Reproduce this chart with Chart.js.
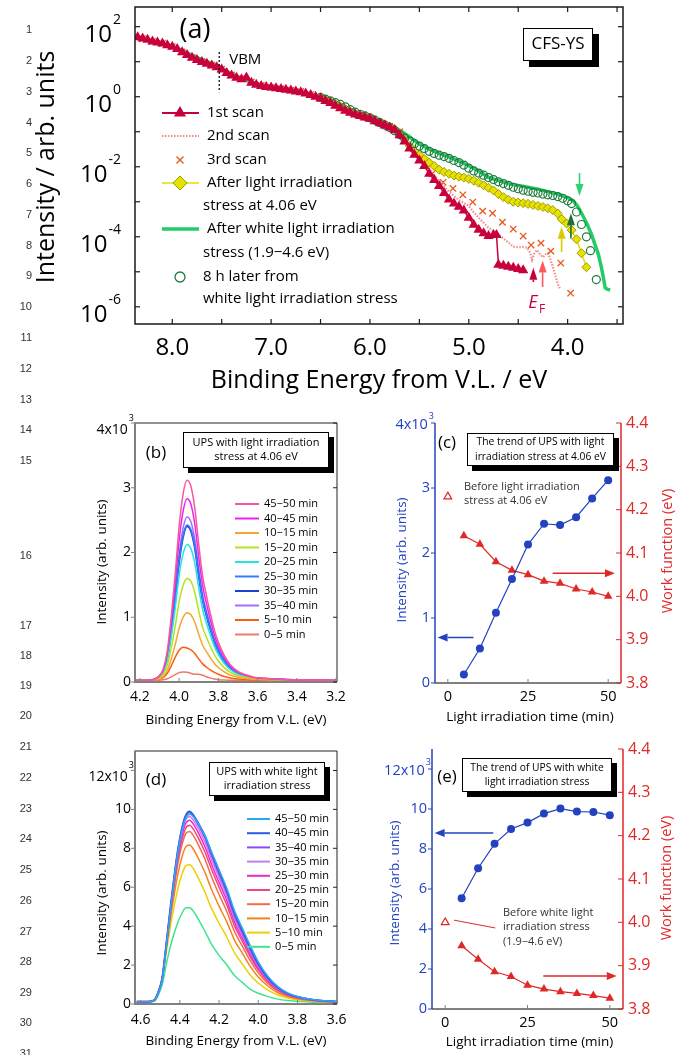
<!DOCTYPE html>
<html>
<head>
<meta charset="utf-8">
<title>CFS-YS photoemission under light irradiation stress</title>
<script src="https://cdn.jsdelivr.net/npm/chart.js@4/dist/chart.umd.min.js"></script>
<style>
  html, body { margin: 0; padding: 0; background: #fff; }
  #page { position: relative; width: 686px; height: 1055px; overflow: hidden; }
  #page canvas { position: absolute; left: 0; top: 0; }
  .ln { position: absolute; left: 0; width: 32px; text-align: right; font: 11px "Liberation Sans", Arial, sans-serif; color: #333; line-height: 14px; }
</style>
</head>
<body>
<div id="page">
  <canvas id="cA" width="686" height="1055"></canvas>
  <canvas id="cB" width="686" height="1055"></canvas>
  <canvas id="cC" width="686" height="1055"></canvas>
  <canvas id="cD" width="686" height="1055"></canvas>
  <canvas id="cE" width="686" height="1055"></canvas>
</div>
<script>
const FONT = '"Open Sans", "Noto Sans", sans-serif';

// manuscript line numbers in the left margin
const lineNumberY = [29, 60, 91, 122, 152, 183, 214, 245, 275, 306, 337, 368, 399, 429, 460,
  555, 625, 655, 685, 715, 746, 777, 808, 838, 869, 900, 931, 961, 992, 1022, 1053];

// ---------- (a) CFS-YS yield spectra, binding energy (eV) vs intensity ----------
const eScan1 = [8.35, 8.30, 8.25, 8.20, 8.15, 8.10, 8.05, 8.00, 7.95, 7.90, 7.85, 7.80, 7.75, 7.70, 7.65,
  7.60, 7.55, 7.50, 7.45, 7.40, 7.35, 7.30, 7.25, 7.20, 7.15, 7.10, 7.05, 7.00, 6.95, 6.90, 6.85, 6.80,
  6.75, 6.70, 6.65, 6.60, 6.55, 6.50, 6.45, 6.40, 6.35, 6.30, 6.25, 6.20, 6.15, 6.10, 6.05, 6.00, 5.95,
  5.90, 5.85, 5.80, 5.75, 5.70, 5.65, 5.60, 5.55, 5.50, 5.45, 5.40, 5.35, 5.30, 5.25, 5.20, 5.15, 5.10,
  5.05, 5.00, 4.95, 4.90, 4.85, 4.80, 4.75, 4.72, 4.70, 4.65, 4.60, 4.55, 4.50, 4.45];
const scan1 = [50.1, 45.7, 42.7, 38.0, 35.5, 33.1, 29.5, 26.9, 22.9, 18.6, 15.5, 12.9, 11.2, 9.77, 8.71,
  7.76, 6.92, 6.03, 4.79, 4.07, 3.47, 3.16, 3.55, 2.51, 2.19, 2.04, 1.91, 1.82, 1.74, 1.66, 1.58, 1.51,
  1.41, 1.35, 1.23, 1.12, 1.00, 0.891, 0.759, 0.661, 0.550, 0.468, 0.398, 0.347, 0.309, 0.282, 0.257, 0.234, 0.200,
  0.174, 0.151, 0.132, 0.110, 0.0794, 0.0525, 0.0331, 0.0219, 0.0151, 0.0105, 6.31e-3, 4.17e-3, 2.82e-3, 1.78e-3, 1.17e-3, 8.9e-4, 7.2e-4,
  5.6e-4, 3.5e-4, 2.2e-4, 1.6e-4, 1.26e-4, 1.05e-4, 1.12e-4, 1.12e-4, 1.6e-5, 1.5e-5, 1.4e-5, 1.3e-5, 1.2e-5, 1.1e-5];

const eScan2 = [6.50, 6.20, 6.00, 5.80, 5.70, 5.60, 5.50, 5.40, 5.30, 5.20, 5.10, 5.00, 4.95, 4.90, 4.85,
  4.80, 4.75, 4.70, 4.65, 4.60, 4.55, 4.50, 4.45, 4.41, 4.38, 4.36, 4.34, 4.31, 4.28, 4.25, 4.22, 4.20,
  4.18, 4.15, 4.12, 4.10, 4.08];
const scan2 = [0.933, 0.363, 0.251, 0.141, 0.0955, 0.0417, 0.0191, 8.7e-3, 3.98e-3, 1.91e-3, 1.12e-3, 7.6e-4, 5.0e-4, 3.5e-4, 2.5e-4,
  1.8e-4, 1.45e-4, 1.17e-4, 8.9e-5, 6.9e-5, 5.2e-5, 5.0e-5, 5.1e-5, 4.9e-5, 3.5e-5, 2.2e-5, 3.2e-5, 4.2e-5, 3.2e-5, 2.6e-5, 3.2e-5, 3.4e-5,
  2.5e-5, 1.4e-5, 7.1e-6, 4.5e-6, 3.4e-6];

const eScan3 = [8.3, 8.2, 8.1, 8.0, 7.9, 7.8, 7.7, 7.6, 7.5, 7.4, 7.3, 7.2, 7.1, 7.0, 6.9, 6.8, 6.7, 6.6,
  6.5, 6.4, 6.3, 6.2, 6.1, 6.0, 5.9, 5.8, 5.7, 5.6, 5.5, 5.37, 5.26, 5.16, 5.06, 4.96, 4.86, 4.76, 4.66,
  4.55, 4.45, 4.37, 4.27, 4.17, 4.07, 3.97];
const scan3 = [45.7, 38.0, 33.1, 26.9, 19.1, 13.2, 10.0, 7.94, 6.17, 4.17, 3.31, 2.63, 2.09, 1.86, 1.70, 1.55, 1.41, 1.15,
  0.912, 0.692, 0.501, 0.372, 0.295, 0.245, 0.186, 0.141, 0.1, 0.0355, 0.0158, 6.3e-3, 3.6e-3, 2.4e-3, 1.58e-3, 9.8e-4, 5.4e-4, 4.7e-4, 2.6e-4,
  1.66e-4, 1.05e-4, 5.8e-5, 6.6e-5, 3.9e-5, 1.78e-5, 2.45e-6];

const eLight = [6.50, 6.45, 6.40, 6.35, 6.30, 6.25, 6.20, 6.15, 6.10, 6.05, 6.00, 5.95, 5.90, 5.85, 5.80,
  5.75, 5.70, 5.65, 5.60, 5.55, 5.50, 5.45, 5.40, 5.35, 5.30, 5.25, 5.20, 5.15, 5.10, 5.05, 5.00, 4.95,
  4.90, 4.85, 4.80, 4.75, 4.70, 4.65, 4.60, 4.55, 4.50, 4.45, 4.40, 4.35, 4.30, 4.25, 4.20, 4.15, 4.10,
  4.06, 4.01, 3.96, 3.91, 3.86, 3.81];
const light406 = [0.955, 0.832, 0.724, 0.617, 0.525, 0.447, 0.380, 0.331, 0.295, 0.269, 0.245, 0.214, 0.186, 0.162, 0.141,
  0.120, 0.0891, 0.0603, 0.0398, 0.0282, 0.0214, 0.0166, 0.0132, 0.0105, 8.3e-3, 7.1e-3, 6.3e-3, 5.6e-3, 5.2e-3, 4.9e-3, 4.5e-3, 4.0e-3,
  3.5e-3, 2.95e-3, 2.5e-3, 2.1e-3, 1.66e-3, 1.35e-3, 1.15e-3, 1.0e-3, 9.5e-4, 9.1e-4, 8.7e-4, 8.1e-4, 7.6e-4, 7.1e-4, 6.5e-4, 5.8e-4, 4.6e-4,
  3.2e-4, 2.4e-4, 1.55e-4, 8.5e-5, 3.4e-5, 1.35e-5];

const eWhite = [8.35, 8.2, 8.0, 7.9, 7.8, 7.7, 7.6, 7.5, 7.4, 7.3, 7.2, 7.1, 7.0, 6.9, 6.8, 6.7, 6.6, 6.5,
  6.4, 6.3, 6.2, 6.1, 6.0, 5.9, 5.8, 5.7, 5.6, 5.5, 5.4, 5.3, 5.2, 5.1, 5.0, 4.9, 4.8, 4.7, 4.6, 4.5, 4.4,
  4.3, 4.2, 4.1, 4.0, 3.95, 3.9, 3.85, 3.8, 3.76, 3.72, 3.69, 3.66, 3.64, 3.62, 3.6, 3.57];
const whiteLight = [50.1, 38.0, 27.5, 20.9, 15.1, 11.5, 8.91, 6.61, 4.47, 3.31, 2.63, 2.14, 1.86, 1.70, 1.55, 1.41, 1.17, 0.955,
  0.759, 0.575, 0.417, 0.316, 0.263, 0.200, 0.151, 0.110, 0.0724, 0.0447, 0.0316, 0.0240, 0.0191, 0.0145, 0.0107, 7.6e-3, 5.0e-3, 4.0e-3, 3.3e-3, 2.9e-3, 2.6e-3,
  2.3e-3, 1.95e-3, 1.66e-3, 1.32e-3, 1.10e-3, 7.6e-4, 4.2e-4, 2.2e-4, 1.2e-4, 5.6e-5, 3.2e-5, 1.4e-5, 7.1e-6, 3.5e-6, 3.2e-6, 3.0e-6];

const eLater = [6.50, 6.45, 6.40, 6.35, 6.30, 6.25, 6.20, 6.15, 6.10, 6.05, 6.00, 5.95, 5.90, 5.85, 5.80,
  5.75, 5.70, 5.65, 5.60, 5.55, 5.50, 5.45, 5.40, 5.35, 5.30, 5.25, 5.20, 5.15, 5.10, 5.05, 5.00, 4.95,
  4.90, 4.85, 4.80, 4.75, 4.70, 4.65, 4.60, 4.55, 4.50, 4.45, 4.40, 4.35, 4.30, 4.25, 4.20, 4.15, 4.10,
  4.05, 4.00, 3.96, 3.91, 3.86, 3.81, 3.77, 3.71];
const later8h = [0.955, 0.851, 0.759, 0.676, 0.603, 0.513, 0.427, 0.363, 0.316, 0.282, 0.251, 0.214, 0.182, 0.155, 0.132,
  0.107, 0.0832, 0.0661, 0.0537, 0.0457, 0.0389, 0.0331, 0.0275, 0.0240, 0.0214, 0.0195, 0.0174, 0.0151, 0.0132, 0.0112, 9.1e-3, 7.6e-3,
  6.6e-3, 5.75e-3, 4.9e-3, 4.3e-3, 3.7e-3, 3.3e-3, 2.95e-3, 2.6e-3, 2.35e-3, 2.14e-3, 2.0e-3, 1.86e-3, 1.78e-3, 1.66e-3, 1.58e-3, 1.51e-3, 1.41e-3,
  1.26e-3, 1.07e-3, 8.9e-4, 5.1e-4, 2.24e-4, 1.0e-4, 4.0e-5, 6.0e-6];

// ---------- (b) UPS during 4.06 eV irradiation (x10^3 counts) ----------
const eB = [4.22, 4.16, 4.10, 4.08, 4.06, 4.04, 4.02, 4.00, 3.98, 3.96, 3.94, 3.92, 3.90, 3.88, 3.86,
  3.84, 3.82, 3.80, 3.77, 3.74, 3.70, 3.66, 3.62, 3.56, 3.45, 3.32, 3.20];
const b45_50 = [0.025, 0.025, 0.102, 0.210, 0.489, 1.014, 1.663, 2.404, 2.899, 3.115, 3.022, 2.682, 2.126, 1.632, 1.323, 1.045, 0.798, 0.612, 0.411, 0.272, 0.164, 0.112, 0.074, 0.056, 0.037, 0.031, 0.025];
const b40_45 = [0.025, 0.025, 0.095, 0.193, 0.446, 0.923, 1.512, 2.185, 2.634, 2.830, 2.746, 2.437, 1.932, 1.484, 1.203, 0.951, 0.726, 0.558, 0.376, 0.249, 0.151, 0.104, 0.070, 0.053, 0.036, 0.031, 0.025];
const b10_15 = [0.025, 0.025, 0.051, 0.088, 0.182, 0.359, 0.579, 0.830, 0.997, 1.070, 1.039, 0.924, 0.736, 0.568, 0.464, 0.370, 0.286, 0.224, 0.156, 0.109, 0.072, 0.054, 0.042, 0.035, 0.029, 0.027, 0.025];
const b15_20 = [0.025, 0.025, 0.064, 0.120, 0.261, 0.529, 0.860, 1.238, 1.490, 1.600, 1.553, 1.380, 1.096, 0.844, 0.687, 0.545, 0.419, 0.324, 0.222, 0.151, 0.096, 0.069, 0.050, 0.041, 0.031, 0.028, 0.025];
const b20_25 = [0.025, 0.025, 0.078, 0.151, 0.340, 0.697, 1.138, 1.642, 1.978, 2.125, 2.062, 1.831, 1.453, 1.117, 0.907, 0.718, 0.550, 0.424, 0.288, 0.193, 0.120, 0.084, 0.059, 0.046, 0.033, 0.029, 0.025];
const b25_30 = [0.025, 0.025, 0.085, 0.169, 0.385, 0.793, 1.297, 1.873, 2.257, 2.425, 2.353, 2.089, 1.657, 1.273, 1.033, 0.817, 0.625, 0.481, 0.325, 0.217, 0.133, 0.092, 0.063, 0.049, 0.035, 0.030, 0.025];
const b30_35 = [0.025, 0.025, 0.082, 0.165, 0.380, 0.785, 1.290, 1.860, 2.240, 2.405, 2.335, 2.075, 1.645, 1.265, 1.025, 0.810, 0.620, 0.477, 0.323, 0.215, 0.132, 0.092, 0.063, 0.049, 0.035, 0.030, 0.025];
const b35_40 = [0.025, 0.025, 0.088, 0.177, 0.404, 0.833, 1.363, 1.969, 2.373, 2.550, 2.474, 2.197, 1.742, 1.338, 1.086, 0.858, 0.656, 0.505, 0.341, 0.227, 0.139, 0.096, 0.065, 0.050, 0.035, 0.030, 0.025];
const b05_10 = [0.025, 0.025, 0.045, 0.070, 0.135, 0.250, 0.380, 0.490, 0.535, 0.525, 0.495, 0.440, 0.355, 0.280, 0.228, 0.185, 0.150, 0.120, 0.085, 0.062, 0.046, 0.038, 0.032, 0.030, 0.027, 0.026, 0.025];
const b00_05 = [0.025, 0.025, 0.028, 0.035, 0.050, 0.080, 0.115, 0.145, 0.155, 0.150, 0.135, 0.118, 0.120, 0.105, 0.080, 0.060, 0.045, 0.036, 0.030, 0.028, 0.026, 0.026, 0.025, 0.025, 0.025, 0.025, 0.025];

// ---------- (c) trend during 4.06 eV irradiation ----------
const tMin = [5, 10, 15, 20, 25, 30, 35, 40, 45, 50];
const intensityC = [0.13, 0.53, 1.08, 1.60, 2.13, 2.45, 2.43, 2.55, 2.84, 3.12];
const workFnC = [4.14, 4.12, 4.08, 4.06, 4.05, 4.035, 4.03, 4.017, 4.01, 4.00];
const workFnBeforeC = 4.23;

// ---------- (d) UPS during white light irradiation (x10^3 counts) ----------
const eD = [4.62, 4.56, 4.53, 4.51, 4.49, 4.47, 4.45, 4.43, 4.41, 4.39, 4.37, 4.35, 4.33, 4.30,
  4.27, 4.24, 4.20, 4.16, 4.12, 4.08, 4.04, 4.00, 3.95, 3.90, 3.85, 3.80, 3.72, 3.60];
const d45_50 = [0.12, 0.12, 0.20, 0.57, 1.25, 2.90, 4.65, 6.33, 7.80, 8.87, 9.55, 9.75, 9.62, 9.18, 8.62, 7.86, 6.90, 5.93, 4.76, 3.87, 2.98, 2.17, 1.41, 0.89, 0.57, 0.39, 0.23, 0.12];
const d40_45 = [0.12, 0.12, 0.20, 0.59, 1.29, 2.97, 4.75, 6.44, 7.92, 9.01, 9.70, 9.90, 9.70, 9.21, 8.61, 7.82, 6.83, 5.84, 4.65, 3.76, 2.87, 2.08, 1.34, 0.84, 0.54, 0.37, 0.22, 0.12];
const d35_40 = [0.12, 0.12, 0.20, 0.61, 1.31, 3.00, 4.78, 6.44, 7.90, 8.97, 9.66, 9.85, 9.64, 9.12, 8.51, 7.70, 6.70, 5.72, 4.54, 3.66, 2.79, 2.02, 1.30, 0.82, 0.53, 0.36, 0.21, 0.12];
const d30_35 = [0.12, 0.12, 0.20, 0.61, 1.32, 2.99, 4.73, 6.34, 7.76, 8.80, 9.47, 9.64, 9.43, 8.90, 8.27, 7.46, 6.48, 5.51, 4.36, 3.51, 2.66, 1.93, 1.24, 0.79, 0.51, 0.35, 0.21, 0.11];
const d25_30 = [0.12, 0.12, 0.20, 0.61, 1.33, 2.98, 4.68, 6.24, 7.62, 8.63, 9.28, 9.44, 9.23, 8.68, 8.04, 7.22, 6.25, 5.31, 4.19, 3.36, 2.54, 1.84, 1.19, 0.75, 0.49, 0.34, 0.20, 0.11];
const d20_25 = [0.13, 0.13, 0.20, 0.61, 1.32, 2.94, 4.60, 6.11, 7.43, 8.41, 9.03, 9.18, 8.96, 8.41, 7.76, 6.96, 6.00, 5.08, 3.99, 3.20, 2.41, 1.75, 1.13, 0.72, 0.47, 0.32, 0.20, 0.11];
const d15_20 = [0.13, 0.13, 0.20, 0.61, 1.34, 2.94, 4.54, 5.97, 7.23, 8.15, 8.75, 8.87, 8.64, 8.06, 7.40, 6.58, 5.63, 4.74, 3.70, 2.95, 2.21, 1.60, 1.04, 0.66, 0.44, 0.30, 0.19, 0.10];
const d10_15 = [0.12, 0.12, 0.20, 0.59, 1.30, 2.79, 4.26, 5.56, 6.69, 7.53, 8.07, 8.17, 7.94, 7.36, 6.71, 5.92, 5.03, 4.21, 3.26, 2.59, 1.92, 1.39, 0.91, 0.58, 0.39, 0.27, 0.17, 0.09];
const d05_10 = [0.12, 0.12, 0.19, 0.56, 1.24, 2.59, 3.89, 4.98, 5.93, 6.64, 7.10, 7.16, 6.93, 6.35, 5.70, 4.95, 4.15, 3.43, 2.61, 2.04, 1.48, 1.08, 0.71, 0.46, 0.31, 0.22, 0.14, 0.08];
const d00_05 = [0.10, 0.10, 0.15, 0.45, 1.00, 2.00, 2.90, 3.60, 4.20, 4.65, 4.95, 4.95, 4.75, 4.25, 3.70, 3.10, 2.50, 2.00, 1.45, 1.10, 0.75, 0.55, 0.38, 0.25, 0.18, 0.14, 0.09, 0.05];

// ---------- (e) trend during white light irradiation ----------
const intensityE = [5.54, 7.04, 8.26, 9.00, 9.32, 9.77, 10.02, 9.87, 9.85, 9.69];
const workFnE = [3.946, 3.915, 3.886, 3.875, 3.855, 3.846, 3.840, 3.836, 3.831, 3.825];
const workFnBeforeE = 4.00;

// axis ticks
const ticksA_x = [8.0, 7.0, 6.0, 5.0, 4.0];
const ticksA_exp = [2, 0, -2, -4, -6];
const ticksB_x = [4.2, 4.0, 3.8, 3.6, 3.4, 3.2];
const ticksB_y = [0, 1, 2, 3, 4];
const ticksD_x = [4.6, 4.4, 4.2, 4.0, 3.8, 3.6];
const ticksD_y = [0, 2, 4, 6, 8, 10, 12];
const ticksT_x = [0, 25, 50];
const ticksC_y = [0, 1, 2, 3, 4];
const ticksE_y = [0, 2, 4, 6, 8, 10, 12];
const ticksWF = [3.8, 3.9, 4.0, 4.1, 4.2, 4.3, 4.4];

const pts = (xs, ys) => xs.map((x, i) => ({ x, y: ys[i] }));

// ---------- drawing helpers ----------
function txt(ctx, s, x, y, size, o = {}) {
  ctx.save();
  ctx.font = `${o.style || ''} ${size}px ${FONT}`;
  ctx.fillStyle = o.color || '#000';
  ctx.textAlign = o.align || 'center';
  ctx.textBaseline = 'middle';
  if (o.rotate) {
    ctx.translate(x, y);
    ctx.rotate(o.rotate);
    ctx.fillText(s, 0, 0);
  } else {
    ctx.fillText(s, x, y);
  }
  ctx.restore();
}

function line(ctx, x1, y1, x2, y2, color, lw, dash) {
  ctx.save();
  ctx.strokeStyle = color;
  ctx.lineWidth = lw;
  if (dash) ctx.setLineDash(dash);
  ctx.beginPath();
  ctx.moveTo(x1, y1);
  ctx.lineTo(x2, y2);
  ctx.stroke();
  ctx.restore();
}

// base text with a raised exponent, right edge at x
function powLabel(ctx, base, exp, x, y, size, supSize, rise, color) {
  ctx.save();
  ctx.fillStyle = color;
  ctx.textBaseline = 'middle';
  ctx.font = `${supSize}px ${FONT}`;
  const w = ctx.measureText(exp).width;
  ctx.textAlign = 'left';
  ctx.fillText(exp, x - w, y - rise);
  ctx.font = `${size}px ${FONT}`;
  ctx.textAlign = 'right';
  ctx.fillText(base, x - w - 1, y);
  ctx.restore();
}

function arrow(ctx, x1, y1, x2, y2, color, lw = 1.5, head = 11, half = 4) {
  const a = Math.atan2(y2 - y1, x2 - x1);
  const bx = x2 - head * Math.cos(a), by = y2 - head * Math.sin(a);
  ctx.save();
  ctx.strokeStyle = color;
  ctx.fillStyle = color;
  ctx.lineWidth = lw;
  ctx.beginPath();
  ctx.moveTo(x1, y1);
  ctx.lineTo(bx, by);
  ctx.stroke();
  ctx.beginPath();
  ctx.moveTo(x2, y2);
  ctx.lineTo(bx + half * Math.sin(a), by - half * Math.cos(a));
  ctx.lineTo(bx - half * Math.sin(a), by + half * Math.cos(a));
  ctx.closePath();
  ctx.fill();
  ctx.restore();
}

function shadowBox(ctx, x, y, w, h, off, lines, size, gap) {
  ctx.save();
  ctx.fillStyle = '#000';
  ctx.fillRect(x + off, y + off, w, h);
  ctx.fillStyle = '#fff';
  ctx.fillRect(x, y, w, h);
  ctx.strokeStyle = '#000';
  ctx.lineWidth = 1;
  ctx.strokeRect(x + 0.5, y + 0.5, w - 1, h - 1);
  ctx.restore();
  const cy = y + h / 2 - (lines.length - 1) * gap / 2;
  lines.forEach((s, i) => txt(ctx, s, x + w / 2, cy + i * gap, size));
}

function marker(ctx, kind, x, y, r, fill, stroke, lw = 1) {
  ctx.save();
  ctx.beginPath();
  if (kind === 'triangle') {
    for (let k = 0; k < 3; k++) {
      const ang = k * 2 * Math.PI / 3;
      const X = x + Math.sin(ang) * r, Y = y - Math.cos(ang) * r;
      if (k) ctx.lineTo(X, Y); else ctx.moveTo(X, Y);
    }
    ctx.closePath();
  } else if (kind === 'diamond') {
    ctx.moveTo(x - r, y); ctx.lineTo(x, y - r); ctx.lineTo(x + r, y); ctx.lineTo(x, y + r);
    ctx.closePath();
  } else if (kind === 'circle') {
    ctx.arc(x, y, r, 0, Math.PI * 2);
  } else if (kind === 'cross') {
    const d = r * Math.SQRT1_2;
    ctx.moveTo(x - d, y - d); ctx.lineTo(x + d, y + d);
    ctx.moveTo(x + d, y - d); ctx.lineTo(x - d, y + d);
  }
  if (fill) { ctx.fillStyle = fill; ctx.fill(); }
  if (stroke) { ctx.strokeStyle = stroke; ctx.lineWidth = lw; ctx.stroke(); }
  ctx.restore();
}

const pad = (l, t, r, b) => ({ left: l, top: t, right: 686 - r, bottom: 1055 - b });

const baseOptions = (padding, scales) => ({
  responsive: false,
  animation: false,
  devicePixelRatio: 1,
  events: [],
  layout: { padding },
  plugins: { legend: { display: false }, tooltip: { enabled: false } },
  scales
});

// ---------- (a) ----------
const colA = {
  scan1: '#c8003c', scan2: '#f58a8a', scan3: '#e8581e',
  lightLine: '#e4dc00', lightFill: '#e6e200', lightEdge: '#a29c00',
  white: '#22cc66', later: '#1e7a3c'
};

const decorA = {
  id: 'decorA',
  afterDraw(chart) {
    const { ctx, chartArea: a } = chart;
    const sx = chart.scales.x, sy = chart.scales.y;
    const px = v => sx.getPixelForValue(v), py = v => sy.getPixelForValue(v);

    // valence band maximum
    line(ctx, px(7.525), py(19), px(7.525), py(1.35), '#000', 1.2, [2, 2]);
    txt(ctx, 'VBM', px(7.525) + 10, 60, 15, { align: 'left' });

    // Fermi-level / onset arrows
    arrow(ctx, px(4.347), py(5.1e-6), px(4.347), py(1.3e-5), '#c8003c', 1.6, 12, 4);
    arrow(ctx, px(4.253), py(3.7e-6), px(4.253), py(2.1e-5), '#ff5858', 1.6, 12, 4);
    arrow(ctx, px(4.061), py(3.7e-5), px(4.061), py(1.95e-4), '#d6cc00', 1.6, 12, 4);
    arrow(ctx, px(3.967), py(8.9e-5), px(3.967), py(4.7e-4), '#1f6e3a', 1.6, 12, 4);
    arrow(ctx, px(3.88), py(6.6e-3), px(3.88), py(1.45e-3), '#2bd46e', 1.6, 12, 4);
    txt(ctx, 'E', 533, 303, 18, { style: 'italic', color: '#c8003c' });
    txt(ctx, 'F', 542, 310, 12, { color: '#c8003c' });

    // frame and inward ticks
    ctx.save();
    ctx.strokeStyle = '#1a1a1a';
    ctx.lineWidth = 1.5;
    ctx.strokeRect(a.left, a.top, a.right - a.left, a.bottom - a.top);
    ctx.restore();
    for (let v = 8.0; v >= 3.5; v -= 0.5) {
      const p = px(v);
      line(ctx, p, a.bottom, p, a.bottom - 5, '#1a1a1a', 1.2);
      line(ctx, p, a.top, p, a.top + 5, '#1a1a1a', 1.2);
    }
    for (let e = -6; e <= 2; e++) {
      const p = py(Math.pow(10, e));
      line(ctx, a.left, p, a.left + 5, p, '#1a1a1a', 1.2);
      line(ctx, a.right, p, a.right - 5, p, '#1a1a1a', 1.2);
    }
    ticksA_x.forEach(v => txt(ctx, v.toFixed(1), px(v), 348, 24));
    ticksA_exp.forEach(e => powLabel(ctx, '10', String(e), 121, py(Math.pow(10, e)) + 8, 24, 14, 15, '#000'));

    txt(ctx, 'Binding Energy from V.L. / eV', (a.left + a.right) / 2, 381, 25);
    txt(ctx, 'Intensity / arb. units', 47, 167, 25, { rotate: -Math.PI / 2 });
    txt(ctx, '(a)', 195, 30, 27);
    shadowBox(ctx, 523, 28, 70, 33, 6, ['CFS-YS'], 17, 0);

    // legend
    const lx0 = 162, lx1 = 199, mx = 180;
    line(ctx, lx0, 113, lx1, 113, colA.scan1, 2);
    marker(ctx, 'triangle', mx, 113, 7, colA.scan1);
    line(ctx, lx0, 136, lx1, 136, colA.scan2, 2.2, [1.5, 1.5]);
    marker(ctx, 'cross', mx, 160, 5, null, colA.scan3, 1.3);
    line(ctx, lx0, 183, lx1, 183, colA.lightLine, 1.5);
    marker(ctx, 'diamond', mx, 183, 7, colA.lightFill, colA.lightEdge, 1);
    line(ctx, lx0, 229, lx1, 229, colA.white, 3.5);
    marker(ctx, 'circle', mx, 277, 5, null, colA.later, 1.3);
    const rows = [
      ['1st scan', 207, 113], ['2nd scan', 207, 136], ['3rd scan', 207, 160],
      ['After light irradiation', 207, 183], ['stress at 4.06 eV', 203, 206],
      ['After white light irradiation', 207, 229], ['stress (1.9\u22124.6 eV)', 203, 253],
      ['8 h later from', 203, 277], ['white light irradiation stress', 203, 299]
    ];
    rows.forEach(([s, x, y]) => txt(ctx, s, x, y, 15, { align: 'left' }));
  }
};

new Chart(document.getElementById('cA'), {
  type: 'line',
  data: {
    datasets: [
      { label: '1st scan', data: pts(eScan1, scan1), borderColor: colA.scan1, backgroundColor: colA.scan1,
        borderWidth: 1.5, pointStyle: 'triangle', pointRadius: 6, pointBorderWidth: 0, order: 1 },
      { label: '2nd scan', data: pts(eScan2, scan2), borderColor: colA.scan2, borderWidth: 2.2,
        borderDash: [1.5, 1.5], pointRadius: 0, order: 5 },
      { label: '3rd scan', data: pts(eScan3, scan3), showLine: false, pointStyle: 'crossRot',
        pointRadius: 4.5, pointBorderWidth: 1.3, borderColor: colA.scan3, backgroundColor: colA.scan3, order: 3 },
      { label: 'After light irradiation stress at 4.06 eV', data: pts(eLight, light406), borderColor: colA.lightLine,
        borderWidth: 1.5, pointStyle: 'rectRot', pointRadius: 4.5, pointBackgroundColor: colA.lightFill,
        pointBorderColor: colA.lightEdge, pointBorderWidth: 1, order: 4 },
      { label: 'After white light irradiation stress (1.9\u22124.6 eV)', data: pts(eWhite, whiteLight),
        borderColor: colA.white, borderWidth: 3.5, pointRadius: 0, order: 6 },
      { label: '8 h later from white light irradiation stress', data: pts(eLater, later8h), showLine: false,
        pointStyle: 'circle', pointRadius: 4, pointBorderColor: colA.later, pointBackgroundColor: 'rgba(255,255,255,0)',
        pointBorderWidth: 1.2, order: 2 }
    ]
  },
  options: baseOptions(pad(135, 7, 623, 324), {
    x: { type: 'linear', reverse: true, min: 3.44, max: 8.377, display: false },
    y: { type: 'logarithmic', min: 3.23e-7, max: 365, display: false }
  }),
  plugins: [decorA]
});

// ---------- (b) and (d): spectra series ----------
function spectrumDecor(o) {
  return {
    id: 'spectrum' + o.tag,
    afterDraw(chart) {
      const { ctx, chartArea: a } = chart;
      const sx = chart.scales.x, sy = chart.scales.y;
      line(ctx, a.left, a.top, a.right, a.top, '#222', 1);
      line(ctx, a.right, a.top, a.right, a.bottom, '#222', 1);
      line(ctx, a.left, a.top - 0.5, a.left, a.bottom + 1, '#808080', 2);
      line(ctx, a.left - 1, a.bottom, a.right, a.bottom, '#808080', 2);
      o.xTicks.forEach(v => {
        const p = sx.getPixelForValue(v);
        line(ctx, p, a.bottom, p, a.bottom - 4, '#808080', 1);
        txt(ctx, v.toFixed(1), p, o.xLabelY, 14);
      });
      o.yTicks.forEach((v, i) => {
        const p = sy.getPixelForValue(v);
        line(ctx, a.left - 4, p, a.left, p, '#808080', 1);
        line(ctx, a.right - 4, p, a.right, p, '#222', 1);
        if (i < o.yTicks.length - 1) txt(ctx, String(v), a.left - 4, p, 14, { align: 'right' });
        else powLabel(ctx, v + 'x10', '3', a.left - 1, p + 7, 14, 9, 12, '#000');
      });
      txt(ctx, 'Binding Energy from V.L. (eV)', (a.left + a.right) / 2, o.xTitleY, 13.5);
      txt(ctx, 'Intensity (arb. units)', 102, o.yTitleY, 13.5, { rotate: -Math.PI / 2 });
      txt(ctx, o.panel, o.panelX, o.panelY, 17);
      shadowBox(ctx, o.box[0], o.box[1], o.box[2], o.box[3], 5, o.boxLines, 11, 14.5);
      chart.data.datasets.forEach((ds, i) => {
        const y = o.legend.y0 + i * o.legend.dy;
        line(ctx, o.legend.x0, y, o.legend.x1, y, ds.borderColor, 2);
        txt(ctx, ds.label, o.legend.tx, y, 11, { align: 'left' });
      });
    }
  };
}

const lineStyle = { borderWidth: 1.5, pointRadius: 0, cubicInterpolationMode: 'monotone' };

new Chart(document.getElementById('cB'), {
  type: 'line',
  data: {
    datasets: [
      { label: '45\u221250 min', data: pts(eB, b45_50), borderColor: '#f4589e', ...lineStyle },
      { label: '40\u221245 min', data: pts(eB, b40_45), borderColor: '#ee22ee', ...lineStyle },
      { label: '10\u221215 min', data: pts(eB, b10_15), borderColor: '#f5a630', ...lineStyle },
      { label: '15\u221220 min', data: pts(eB, b15_20), borderColor: '#b2e41e', ...lineStyle },
      { label: '20\u221225 min', data: pts(eB, b20_25), borderColor: '#26e2e2', ...lineStyle },
      { label: '25\u221230 min', data: pts(eB, b25_30), borderColor: '#2f80ff', ...lineStyle },
      { label: '30\u221235 min', data: pts(eB, b30_35), borderColor: '#1f3fd0', ...lineStyle, borderWidth: 2 },
      { label: '35\u221240 min', data: pts(eB, b35_40), borderColor: '#a66cff', ...lineStyle },
      { label: '5\u221210 min', data: pts(eB, b05_10), borderColor: '#ff5a10', ...lineStyle },
      { label: '0\u22125 min', data: pts(eB, b00_05), borderColor: '#f07866', ...lineStyle }
    ]
  },
  options: baseOptions(pad(135, 423, 337, 682), {
    x: { type: 'linear', reverse: true, min: 3.195, max: 4.225, display: false },
    y: { type: 'linear', min: 0, max: 4, display: false }
  }),
  plugins: [spectrumDecor({
    tag: 'B', xTicks: ticksB_x, yTicks: ticksB_y, xLabelY: 697, xTitleY: 720, yTitleY: 562,
    panel: '(b)', panelX: 156, panelY: 453,
    box: [183, 432, 146, 36], boxLines: ['UPS with light irradiation', 'stress at 4.06 eV'],
    legend: { x0: 235, x1: 259, tx: 264, y0: 504, dy: 14.5 }
  })]
});

new Chart(document.getElementById('cD'), {
  type: 'line',
  data: {
    datasets: [
      { label: '45\u221250 min', data: pts(eD, d45_50), borderColor: '#2aa8f0', ...lineStyle },
      { label: '40\u221245 min', data: pts(eD, d40_45), borderColor: '#2a5ae8', ...lineStyle },
      { label: '35\u221240 min', data: pts(eD, d35_40), borderColor: '#8a4cf0', ...lineStyle, borderWidth: 2 },
      { label: '30\u221235 min', data: pts(eD, d30_35), borderColor: '#c77cf2', ...lineStyle },
      { label: '25\u221230 min', data: pts(eD, d25_30), borderColor: '#f028c8', ...lineStyle },
      { label: '20\u221225 min', data: pts(eD, d20_25), borderColor: '#f2457a', ...lineStyle },
      { label: '15\u221220 min', data: pts(eD, d15_20), borderColor: '#f46a4a', ...lineStyle },
      { label: '10\u221215 min', data: pts(eD, d10_15), borderColor: '#f5821f', ...lineStyle },
      { label: '5\u221210 min', data: pts(eD, d05_10), borderColor: '#f0d000', ...lineStyle },
      { label: '0\u22125 min', data: pts(eD, d00_05), borderColor: '#3ce68c', ...lineStyle }
    ]
  },
  options: baseOptions(pad(135, 751, 337, 1004), {
    x: { type: 'linear', reverse: true, min: 3.598, max: 4.629, display: false },
    y: { type: 'linear', min: 0, max: 13, display: false }
  }),
  plugins: [spectrumDecor({
    tag: 'D', xTicks: ticksD_x, yTicks: ticksD_y, xLabelY: 1020, xTitleY: 1041, yTitleY: 893,
    panel: '(d)', panelX: 156, panelY: 780,
    box: [209, 762, 116, 34], boxLines: ['UPS with white light', 'irradiation stress'],
    legend: { x0: 247, x1: 270, tx: 275, y0: 819, dy: 14.2 }
  })]
});

// ---------- (c) and (e): peak intensity and work function vs time ----------
const BLUE = '#2442c0', RED = '#e02828';

function trendDecor(o) {
  return {
    id: 'trend' + o.tag,
    afterDraw(chart) {
      const { ctx, chartArea: a } = chart;
      const sx = chart.scales.x, yl = chart.scales.yL, yr = chart.scales.yR;
      line(ctx, a.left, a.bottom, a.right, a.bottom, '#808080', 2);
      line(ctx, a.left, a.top, a.left, a.bottom, BLUE, 1.5);
      line(ctx, a.right, a.top, a.right, a.bottom, RED, 1.5);
      o.xTicks.forEach(v => {
        const p = sx.getPixelForValue(v);
        line(ctx, p, a.bottom, p, a.bottom - 4, '#808080', 1);
        txt(ctx, String(v), p, o.xLabelY, 14.5);
      });
      o.yTicks.forEach((v, i) => {
        const p = yl.getPixelForValue(v);
        line(ctx, a.left - 4, p, a.left, p, BLUE, 1);
        if (i < o.yTicks.length - 1) txt(ctx, String(v), a.left - 5, p, 14.5, { align: 'right', color: BLUE });
        else powLabel(ctx, v + 'x10', '3', a.left - 1, p + 2, 14.5, 9, 9, BLUE);
      });
      ticksWF.forEach(v => {
        const p = yr.getPixelForValue(v);
        line(ctx, a.right - 5, p, a.right, p, RED, 1);
        txt(ctx, v.toFixed(1), a.right + 5, p, 16, { align: 'left', color: RED });
      });
      txt(ctx, 'Light irradiation time (min)', (a.left + a.right) / 2 + 2, o.xTitleY, 13.5);
      txt(ctx, 'Intensity (arb. units)', o.yTitleLX, o.yTitleLY, 13.5, { rotate: -Math.PI / 2, color: BLUE });
      txt(ctx, 'Work function (eV)', o.yTitleRX, o.yTitleRY, 14.5, { rotate: -Math.PI / 2, color: RED });
      txt(ctx, o.panel, o.panelX, o.panelY, 17);
      shadowBox(ctx, o.box[0], o.box[1], o.box[2], o.box[3], 5, o.boxLines, 10.3, 14.5);

      // axis pointers
      const bl = o.blueArrow, rd = o.redArrow;
      arrow(ctx, sx.getPixelForValue(bl[0]), yl.getPixelForValue(bl[2]), sx.getPixelForValue(bl[1]), yl.getPixelForValue(bl[2]), BLUE, 1.5, 10, 4);
      arrow(ctx, sx.getPixelForValue(rd[0]), yr.getPixelForValue(rd[2]), sx.getPixelForValue(rd[1]), yr.getPixelForValue(rd[2]), RED, 1.5, 10, 4);

      if (o.leader) {
        const l = o.leader;
        line(ctx, sx.getPixelForValue(l[0]), yr.getPixelForValue(l[1]), sx.getPixelForValue(l[2]), yr.getPixelForValue(l[3]), RED, 1);
      }
      o.note.forEach((s, i) => txt(ctx, s, o.noteX, o.noteY + i * o.noteGap, 11, { align: 'left', color: '#333' }));
    }
  };
}

const trendSets = (intensity, wf, before) => [
  { label: 'Intensity', data: pts(tMin, intensity), yAxisID: 'yL', borderColor: BLUE, backgroundColor: BLUE,
    borderWidth: 1.2, pointStyle: 'circle', pointRadius: 4, pointBorderWidth: 0 },
  { label: 'Work function', data: pts(tMin, wf), yAxisID: 'yR', borderColor: RED, backgroundColor: RED,
    borderWidth: 1.2, pointStyle: 'triangle', pointRadius: 5, pointBorderWidth: 0 },
  { label: 'Before irradiation', data: [{ x: 0, y: before }], yAxisID: 'yR', showLine: false,
    pointStyle: 'triangle', pointRadius: 4.5, pointBackgroundColor: '#fff', pointBorderColor: RED, pointBorderWidth: 1.2 }
];

new Chart(document.getElementById('cC'), {
  type: 'line',
  data: { datasets: trendSets(intensityC, workFnC, workFnBeforeC) },
  options: baseOptions(pad(435, 423, 621, 683), {
    x: { type: 'linear', min: -4, max: 54, display: false },
    yL: { type: 'linear', position: 'left', min: 0, max: 4, display: false },
    yR: { type: 'linear', position: 'right', min: 3.8, max: 4.4, display: false }
  }),
  plugins: [trendDecor({
    tag: 'C', xTicks: ticksT_x, yTicks: ticksC_y, xLabelY: 697, xTitleY: 717,
    yTitleLX: 402, yTitleLY: 560, yTitleRX: 668, yTitleRY: 551,
    panel: '(c)', panelX: 447, panelY: 443,
    box: [467, 433, 147, 33], boxLines: ['The trend of UPS with light', 'irradiation stress at 4.06 eV'],
    blueArrow: [8, -3.2, 0.70], redArrow: [32.7, 52.1, 4.053],
    note: ['Before light irradiation', 'stress at 4.06 eV'], noteX: 464, noteY: 487, noteGap: 13.5
  })]
});

new Chart(document.getElementById('cE'), {
  type: 'line',
  data: { datasets: trendSets(intensityE, workFnE, workFnBeforeE) },
  options: baseOptions(pad(432, 749, 623, 1009), {
    x: { type: 'linear', min: -4, max: 54, display: false },
    yL: { type: 'linear', position: 'left', min: 0, max: 13, display: false },
    yR: { type: 'linear', position: 'right', min: 3.8, max: 4.4, display: false }
  }),
  plugins: [trendDecor({
    tag: 'E', xTicks: ticksT_x, yTicks: ticksE_y, xLabelY: 1023, xTitleY: 1042,
    yTitleLX: 395, yTitleLY: 883, yTitleRX: 667, yTitleRY: 878,
    panel: '(e)', panelX: 447, panelY: 777,
    box: [462, 758, 150, 34], boxLines: ['The trend of UPS with white', 'light irradiation stress'],
    blueArrow: [14.6, -3.2, 8.8], redArrow: [29.8, 52.1, 3.876],
    leader: [2.7, 4.005, 15.2, 3.987],
    note: ['Before white light', 'irradiation stress', '(1.9\u22124.6 eV)'], noteX: 503, noteY: 913, noteGap: 14.2
  })]
});

// margin line numbers
const page = document.getElementById('page');
lineNumberY.forEach((y, i) => {
  const d = document.createElement('div');
  d.className = 'ln';
  d.style.top = (y - 7) + 'px';
  d.textContent = String(i + 1);
  page.appendChild(d);
});
</script>
</body>
</html>
